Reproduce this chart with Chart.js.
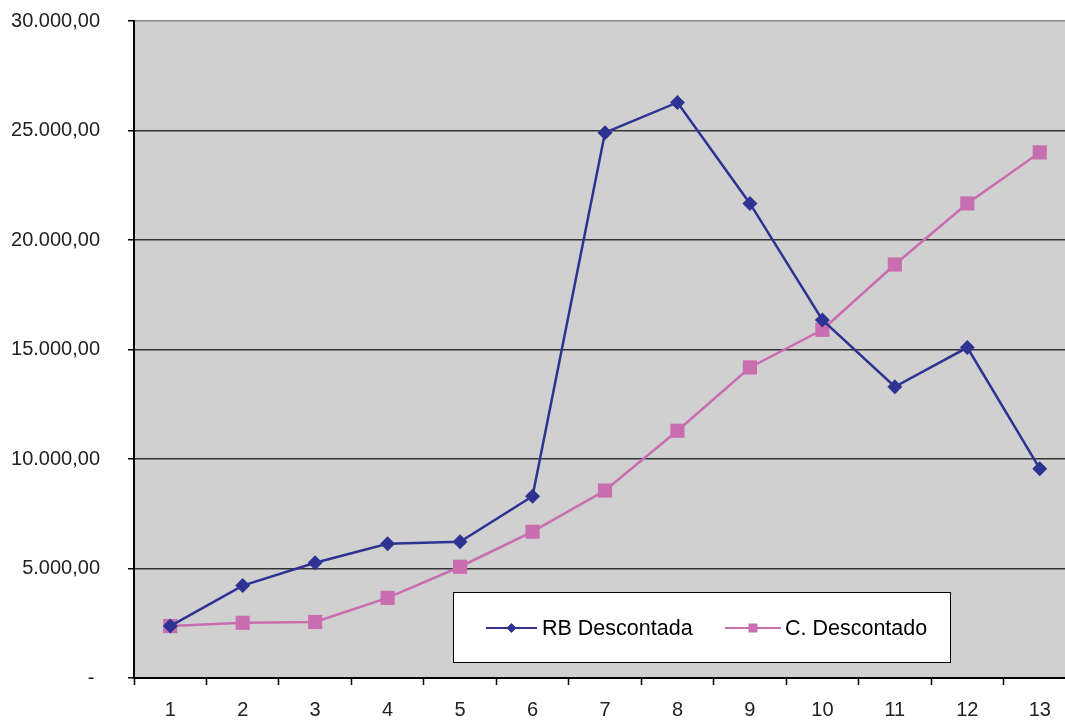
<!DOCTYPE html>
<html>
<head>
<meta charset="utf-8">
<script src="https://cdn.jsdelivr.net/npm/chart.js@4.4.1/dist/chart.umd.min.js"></script>
<style>
  html, body { margin: 0; padding: 0; background: #ffffff; overflow: hidden; }
  #wrap { position: relative; width: 1086px; height: 721px; }
</style>
</head>
<body>
<div id="wrap"><canvas id="chart" width="1086" height="721"></canvas></div>
<script>
// Periods on the horizontal axis
const periods = ['1', '2', '3', '4', '5', '6', '7', '8', '9', '10', '11', '12', '13'];

// Discounted gross revenue per period
const rbDescontada = [2370, 4220, 5260, 6130, 6220, 8300, 24900, 26280, 21670, 16350, 13300, 15090, 9560];

// Discounted cost per period
const cDescontado = [2370, 2520, 2560, 3660, 5080, 6680, 8560, 11290, 14180, 15900, 18880, 21670, 24000];

// Value axis
const yMin = 0;
const yMax = 30000;
const yStep = 5000;

const seriesNames = ['RB Descontada', 'C. Descontado'];
const blue = '#2e3393';
const pink = '#c96db1';

// Accounting-style number: thousands with '.', decimals with ',', zero as a dash
function fmtValue(v) {
  if (v === 0) return '- ';
  const parts = v.toFixed(2).split('.');
  const intPart = parts[0].replace(/\B(?=(\d{3})+(?!\d))/g, '.');
  return intPart + ',' + parts[1];
}

// Grey plot background
const plotBackground = {
  id: 'plotBackground',
  beforeDraw(chart) {
    const { ctx, chartArea: a } = chart;
    ctx.save();
    ctx.fillStyle = '#d0d0d0';
    ctx.fillRect(a.left, a.top, a.right - a.left, a.bottom - a.top);
    ctx.restore();
  }
};

// Boxed legend inside the plot area
const boxedLegend = {
  id: 'boxedLegend',
  afterDatasetsDraw(chart) {
    const ctx = chart.ctx;
    const box = { x: 453, y: 592, w: 497, h: 70 };
    const cy = box.y + 36;
    ctx.save();
    ctx.fillStyle = '#ffffff';
    ctx.fillRect(box.x, box.y, box.w, box.h);
    ctx.strokeStyle = '#000000';
    ctx.lineWidth = 1;
    ctx.strokeRect(box.x + 0.5, box.y + 0.5, box.w, box.h);

    const items = [
      { x0: 486, x1: 537, tx: 542 },
      { x0: 725, x1: 781, tx: 785 }
    ];
    chart.data.datasets.forEach((ds, i) => {
      const it = items[i];
      ctx.strokeStyle = ds.borderColor;
      ctx.lineWidth = 2;
      ctx.beginPath();
      ctx.moveTo(it.x0, cy);
      ctx.lineTo(it.x1, cy);
      ctx.stroke();
      const mx = (it.x0 + it.x1) / 2;
      ctx.fillStyle = ds.pointBackgroundColor;
      ctx.beginPath();
      if (ds.pointStyle === 'rectRot') {
        const r = 5;
        ctx.moveTo(mx, cy - r);
        ctx.lineTo(mx + r, cy);
        ctx.lineTo(mx, cy + r);
        ctx.lineTo(mx - r, cy);
        ctx.closePath();
      } else {
        ctx.rect(mx - 4.5, cy - 4.5, 9, 9);
      }
      ctx.fill();
      ctx.fillStyle = '#000000';
      ctx.font = '21.5px "Liberation Sans", Arial, sans-serif';
      ctx.textBaseline = 'middle';
      ctx.textAlign = 'left';
      ctx.fillText(ds.label, it.tx, cy + 1);
    });
    ctx.restore();
  }
};

new Chart(document.getElementById('chart'), {
  type: 'line',
  data: {
    labels: periods,
    datasets: [
      {
        label: seriesNames[0],
        data: rbDescontada,
        borderColor: blue,
        backgroundColor: blue,
        pointBackgroundColor: blue,
        pointBorderColor: blue,
        borderWidth: 2.5,
        pointStyle: 'rectRot',
        pointRadius: 7.5,
        pointBorderWidth: 0,
        tension: 0,
        fill: false
      },
      {
        label: seriesNames[1],
        data: cDescontado,
        borderColor: pink,
        backgroundColor: pink,
        pointBackgroundColor: pink,
        pointBorderColor: pink,
        borderWidth: 2.5,
        pointStyle: 'rect',
        pointRadius: 10,
        pointBorderWidth: 0,
        tension: 0,
        fill: false
      }
    ]
  },
  options: {
    responsive: false,
    animation: false,
    devicePixelRatio: 1,
    layout: { padding: { top: 21, right: 3.5, left: 0, bottom: 0 } },
    plugins: {
      legend: { display: false },
      tooltip: { enabled: false }
    },
    scales: {
      x: {
        type: 'category',
        offset: true,
        grid: {
          offset: true,
          drawOnChartArea: false,
          drawTicks: true,
          tickLength: 7,
          tickWidth: 1.5,
          tickColor: '#000000'
        },
        border: { display: true, color: '#000000', width: 2 },
        ticks: {
          color: '#222222',
          font: { family: '"Liberation Sans", Arial, sans-serif', size: 20 },
          padding: 13,
          maxRotation: 0,
          autoSkip: false
        },
        afterFit(scale) { scale.height = 43; }
      },
      y: {
        min: yMin,
        max: yMax,
        grid: {
          color: ctx => (ctx.tick && ctx.tick.value === yMax) ? '#8a8a8a' : '#333333',
          lineWidth: 1.5,
          drawTicks: true,
          tickLength: 6,
          tickColor: '#000000'
        },
        border: { display: true, color: '#000000', width: 2 },
        ticks: {
          stepSize: yStep,
          color: '#222222',
          font: { family: '"Liberation Sans", Arial, sans-serif', size: 20 },
          padding: 28,
          callback: v => fmtValue(v)
        },
        afterFit(scale) {
          scale.width = 134;
          scale.paddingTop = 0;
          scale.paddingBottom = 0;
        }
      }
    }
  },
  plugins: [plotBackground, boxedLegend]
});
</script>
</body>
</html>
